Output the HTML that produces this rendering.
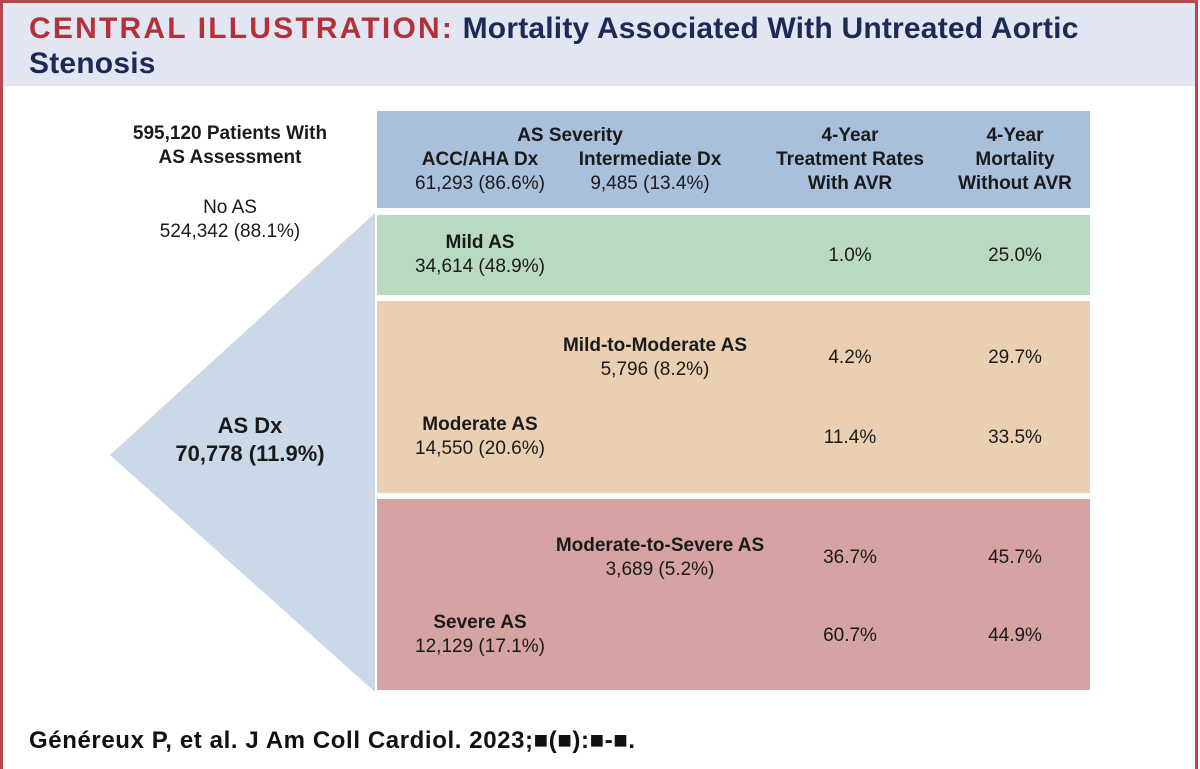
<!DOCTYPE html>
<html><head><meta charset="utf-8"><style>
body{margin:0;width:1200px;height:768px;overflow:hidden;background:#fff;font-family:"Liberation Sans",sans-serif;color:#1a1a1a;position:relative}
.a{position:absolute}
.c{text-align:center}
.b{font-weight:bold}
.t{font-size:19px;line-height:24px}
</style></head><body>
<div class="a" style="left:0;top:0;width:1192px;height:766px;border:3px solid #b5474d;border-bottom:none"></div>
<div class="a" style="left:3px;top:3px;width:1192px;height:83px;background:#e2e5f2"></div>
<div class="a" style="left:29px;top:11px;width:1120px;font-size:30px;line-height:35px;font-weight:bold;color:#1d2a56;letter-spacing:0.2px"><span style="color:#b3323a;letter-spacing:2.2px">CENTRAL ILLUSTRATION:</span> Mortality Associated With Untreated Aortic Stenosis</div>

<div class="a c t b" style="left:100px;top:122px;width:260px">595,120 Patients With<br>AS Assessment</div>
<div class="a c t" style="left:100px;top:196px;width:260px">No AS<br>524,342 (88.1%)</div>
<svg class="a" style="left:0;top:0" width="1200" height="768"><polygon points="110,455 375,213 375,692" fill="#cbd8e8"/></svg>
<div class="a c b" style="left:150px;top:412px;width:200px;font-size:22px;line-height:28px">AS Dx<br>70,778 (11.9%)</div>

<div class="a" style="left:377px;top:111px;width:713px;height:97px;background:#a9c0dd"></div>
<div class="a c t b" style="left:420px;top:124px;width:300px">AS Severity</div>
<div class="a c t" style="left:395px;top:148px;width:170px"><b>ACC/AHA Dx</b><br>61,293 (86.6%)</div>
<div class="a c t" style="left:560px;top:148px;width:180px"><b>Intermediate Dx</b><br>9,485 (13.4%)</div>
<div class="a c t b" style="left:752px;top:124px;width:196px">4-Year<br>Treatment Rates<br>With AVR</div>
<div class="a c t b" style="left:940px;top:124px;width:150px">4-Year<br>Mortality<br>Without AVR</div>

<div class="a" style="left:377px;top:215px;width:713px;height:80px;background:#b9d9c1"></div>
<div class="a c t" style="left:395px;top:231px;width:170px"><b>Mild AS</b><br>34,614 (48.9%)</div>
<div class="a c t" style="left:752px;top:244px;width:196px">1.0%</div>
<div class="a c t" style="left:940px;top:244px;width:150px">25.0%</div>

<div class="a" style="left:377px;top:301px;width:713px;height:192px;background:#ebcfb3"></div>
<div class="a c t" style="left:530px;top:334px;width:250px"><b>Mild-to-Moderate AS</b><br>5,796 (8.2%)</div>
<div class="a c t" style="left:752px;top:346px;width:196px">4.2%</div>
<div class="a c t" style="left:940px;top:346px;width:150px">29.7%</div>
<div class="a c t" style="left:395px;top:413px;width:170px"><b>Moderate AS</b><br>14,550 (20.6%)</div>
<div class="a c t" style="left:752px;top:426px;width:196px">11.4%</div>
<div class="a c t" style="left:940px;top:426px;width:150px">33.5%</div>

<div class="a" style="left:377px;top:499px;width:713px;height:191px;background:#d4a3a2"></div>
<div class="a c t" style="left:510px;top:534px;width:300px"><b>Moderate-to-Severe AS</b><br>3,689 (5.2%)</div>
<div class="a c t" style="left:752px;top:546px;width:196px">36.7%</div>
<div class="a c t" style="left:940px;top:546px;width:150px">45.7%</div>
<div class="a c t" style="left:395px;top:611px;width:170px"><b>Severe AS</b><br>12,129 (17.1%)</div>
<div class="a c t" style="left:752px;top:624px;width:196px">60.7%</div>
<div class="a c t" style="left:940px;top:624px;width:150px">44.9%</div>

<div class="a b" style="left:29px;top:727px;font-size:24px;line-height:28px;color:#111;letter-spacing:0.6px">Généreux P, et al. J Am Coll Cardiol. 2023;■(■):■-■.</div>
</body></html>
